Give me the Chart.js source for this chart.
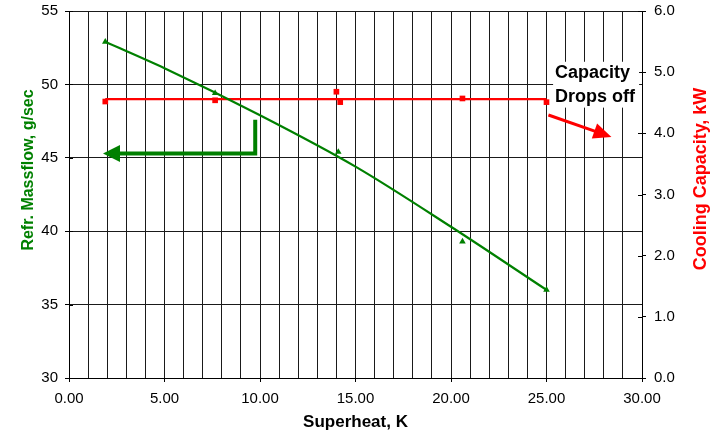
<!DOCTYPE html>
<html>
<head>
<meta charset="utf-8">
<script src="https://cdn.jsdelivr.net/npm/chart.js@4.4.0/dist/chart.umd.min.js"></script>
<style>
  html, body { margin: 0; padding: 0; background: #fff; }
</style>
</head>
<body>
<canvas id="chart" width="725" height="433"></canvas>
<script>
// measured points
const superheat = [1.9, 7.65, 14.1, 20.6, 25.0];
const massflow = [52.9, 49.4, 45.4, 39.3, 36.0];
// massflow trend line
const massflowFitX = [1.9, 5, 10, 15, 20, 25];
const massflowFitY = [52.9, 51.1, 47.9, 44.4, 40.3, 36.0];
// cooling capacity (right axis)
const capacityX = [1.9, 7.65, 14.0, 14.2, 20.6, 25.0];
const capacity = [4.52, 4.54, 4.68, 4.51, 4.57, 4.51];
const capacityFitX = [1.9, 25.0];
const capacityFitY = [4.56, 4.56];

const GREEN = '#008000';
const RED = '#ff0000';
const FONT = '"Liberation Sans", Arial, sans-serif';

const pts = (xs, ys) => xs.map((x, i) => ({ x: x, y: ys[i] }));

function arrowHead(ctx, x1, y1, x2, y2, len, half, color) {
  const a = Math.atan2(y2 - y1, x2 - x1);
  ctx.fillStyle = color;
  ctx.beginPath();
  ctx.moveTo(x2, y2);
  ctx.lineTo(x2 - len * Math.cos(a) + half * Math.sin(a), y2 - len * Math.sin(a) - half * Math.cos(a));
  ctx.lineTo(x2 - len * Math.cos(a) - half * Math.sin(a), y2 - len * Math.sin(a) + half * Math.cos(a));
  ctx.closePath();
  ctx.fill();
}

const extras = {
  id: 'extras',
  afterDatasetsDraw(chart) {
    const { ctx, scales: { x, y, y2 }, chartArea } = chart;
    ctx.save();

    // inner halves of the axis tick marks
    ctx.strokeStyle = '#000';
    ctx.lineWidth = 1;
    ctx.beginPath();
    y.ticks.forEach(t => {
      const py = Math.round(y.getPixelForValue(t.value)) + 0.5;
      ctx.moveTo(chartArea.left, py); ctx.lineTo(chartArea.left + 4, py);
    });
    y2.ticks.forEach(t => {
      const py = Math.round(y2.getPixelForValue(t.value)) + 0.5;
      ctx.moveTo(chartArea.right - 4, py); ctx.lineTo(chartArea.right, py);
    });
    ctx.stroke();

    // green elbow arrow pointing to the massflow axis
    const gx = x.getPixelForValue(9.75);
    const gy0 = y.getPixelForValue(47.6);
    const gy1 = y.getPixelForValue(45.3);
    const gTip = x.getPixelForValue(1.78);
    ctx.strokeStyle = GREEN;
    ctx.lineWidth = 4;
    ctx.lineJoin = 'miter';
    ctx.beginPath();
    ctx.moveTo(gx, gy0);
    ctx.lineTo(gx, gy1);
    ctx.lineTo(gTip + 14, gy1);
    ctx.stroke();
    arrowHead(ctx, gx, gy1, gTip, gy1, 17, 8.5, GREEN);

    // red arrow: capacity drops off
    const rx0 = x.getPixelForValue(25.1), ry0 = y2.getPixelForValue(4.30);
    const rx1 = x.getPixelForValue(28.4), ry1 = y2.getPixelForValue(3.94);
    const ang = Math.atan2(ry1 - ry0, rx1 - rx0);
    ctx.strokeStyle = RED;
    ctx.lineWidth = 3;
    ctx.beginPath();
    ctx.moveTo(rx0, ry0);
    ctx.lineTo(rx1 - 14 * Math.cos(ang), ry1 - 14 * Math.sin(ang));
    ctx.stroke();
    arrowHead(ctx, rx0, ry0, rx1, ry1, 18, 8, RED);

    // text box
    const tx = x.getPixelForValue(25.45);
    const l1 = y2.getPixelForValue(4.99), l2 = y2.getPixelForValue(4.60);
    ctx.fillStyle = '#fff';
    ctx.fillRect(tx - 2, l1 - 11, 86, l2 - l1 + 22);
    ctx.fillStyle = '#000';
    ctx.font = 'bold 18px ' + FONT;
    ctx.textAlign = 'left';
    ctx.textBaseline = 'middle';
    ctx.fillText('Capacity', tx, l1);
    ctx.fillText('Drops off', tx, l2);

    // vertical axis titles
    ctx.textAlign = 'center';
    ctx.font = 'bold 16px ' + FONT;
    ctx.fillStyle = GREEN;
    ctx.translate(29, 170);
    ctx.rotate(-Math.PI / 2);
    ctx.fillText('Refr. Massflow, g/sec', 0, 0);
    ctx.setTransform(1, 0, 0, 1, 0, 0);
    ctx.font = 'bold 18px ' + FONT;
    ctx.fillStyle = RED;
    ctx.translate(701, 179);
    ctx.rotate(-Math.PI / 2);
    ctx.fillText('Cooling Capacity, kW', 0, 0);
    ctx.restore();
  }
};

const noPad = s => { s.paddingTop = 0; s.paddingBottom = 0; };

new Chart(document.getElementById('chart'), {
  type: 'scatter',
  data: {
    datasets: [
      {
        type: 'line', label: 'Massflow fit', data: pts(massflowFitX, massflowFitY), yAxisID: 'y',
        borderColor: GREEN, borderWidth: 2.2, pointRadius: 0, cubicInterpolationMode: 'monotone', fill: false
      },
      {
        label: 'Massflow', data: pts(superheat, massflow), yAxisID: 'y',
        pointStyle: 'triangle', pointRadius: 3.8, backgroundColor: GREEN, borderColor: GREEN, borderWidth: 0
      },
      {
        type: 'line', label: 'Capacity fit', data: pts(capacityFitX, capacityFitY), yAxisID: 'y2',
        borderColor: RED, borderWidth: 2.2, pointRadius: 0, fill: false
      },
      {
        label: 'Capacity', data: pts(capacityX, capacity), yAxisID: 'y2',
        pointStyle: 'rect', pointRadius: 4, backgroundColor: RED, borderColor: RED, borderWidth: 0
      }
    ]
  },
  options: {
    responsive: false,
    animation: false,
    layout: { padding: { top: 11, left: 0, right: 0, bottom: 0 } },
    plugins: { legend: { display: false }, tooltip: { enabled: false } },
    scales: {
      x: {
        type: 'linear', min: 0, max: 30,
        afterFit: s => { s.height = 55; },
        ticks: {
          stepSize: 1, autoSkip: false, maxRotation: 0, padding: 8,
          color: '#000', font: { family: FONT, size: 15 },
          callback: v => v % 5 === 0 ? v.toFixed(2) : ''
        },
        grid: {
          color: '#1a1a1a', lineWidth: 1, tickLength: 4,
          tickColor: c => c.tick && c.tick.value % 5 === 0 ? '#000' : 'rgba(0,0,0,0)'
        },
        border: { color: '#000', width: 1 },
        title: { display: true, text: 'Superheat, K', color: '#000', font: { family: FONT, size: 17, weight: 'bold' }, padding: { top: 2, bottom: 0 } }
      },
      y: {
        position: 'left', min: 30, max: 55,
        afterFit: s => { s.width = 69; noPad(s); },
        ticks: { stepSize: 5, padding: 7, color: '#000', font: { family: FONT, size: 15 } },
        grid: { color: '#1a1a1a', lineWidth: 1, tickLength: 4, tickColor: '#000' },
        border: { color: '#000', width: 1 }
      },
      y2: {
        position: 'right', min: 0, max: 6,
        afterFit: s => { s.width = 83; noPad(s); },
        ticks: { stepSize: 1, padding: 8, color: '#000', font: { family: FONT, size: 15 }, callback: v => v.toFixed(1) },
        grid: { drawOnChartArea: false, tickLength: 4, tickColor: '#000' },
        border: { color: '#000', width: 1 }
      }
    }
  },
  plugins: [extras]
});
</script>
</body>
</html>
